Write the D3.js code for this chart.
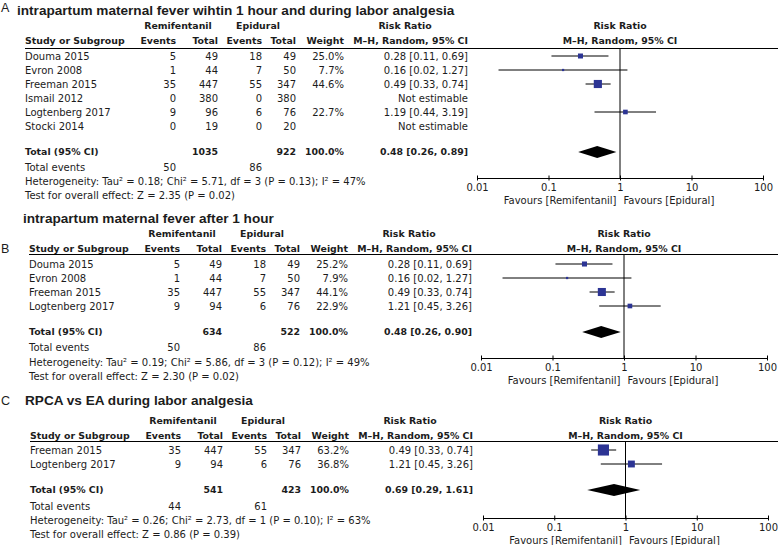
<!DOCTYPE html>
<html><head><meta charset="utf-8">
<script src="https://cdn.jsdelivr.net/npm/d3@7"></script>
<style>body{margin:0;background:#fff} svg{display:block}</style>
</head><body><svg id="c" width="778" height="545"></svg>
<script>
// ---------------- DATA ----------------
const titles = [
  "intrapartum maternal fever wihtin 1 hour and during labor analgesia",
  "intrapartum maternal fever after 1 hour",
  "RPCA vs EA during labor analgesia"
];
const panelLetters = ["A", "B", "C"];

// Panel A
const studiesA     = ["Douma 2015", "Evron 2008", "Freeman 2015", "Ismail 2012", "Logtenberg 2017", "Stocki 2014"];
const remiEventsA  = [5, 1, 35, 0, 9, 0];
const remiTotalA   = [49, 44, 447, 380, 96, 19];
const epiEventsA   = [18, 7, 55, 0, 6, 0];
const epiTotalA    = [49, 50, 347, 380, 76, 20];
const weightA      = [25.0, 7.7, 44.6, null, 22.7, null];
const rrA          = [0.28, 0.16, 0.49, null, 1.19, null];
const lowA         = [0.11, 0.02, 0.33, null, 0.44, null];
const highA        = [0.69, 1.27, 0.74, null, 3.19, null];
const totalA       = {remiTotal: 1035, epiTotal: 922, remiEvents: 50, epiEvents: 86, rr: 0.48, low: 0.26, high: 0.89,
                      het: "Heterogeneity: Tau² = 0.18; Chi² = 5.71, df = 3 (P = 0.13); I² = 47%",
                      test: "Test for overall effect: Z = 2.35 (P = 0.02)"};

// Panel B
const studiesB     = ["Douma 2015", "Evron 2008", "Freeman 2015", "Logtenberg 2017"];
const remiEventsB  = [5, 1, 35, 9];
const remiTotalB   = [49, 44, 447, 94];
const epiEventsB   = [18, 7, 55, 6];
const epiTotalB    = [49, 50, 347, 76];
const weightB      = [25.2, 7.9, 44.1, 22.9];
const rrB          = [0.28, 0.16, 0.49, 1.21];
const lowB         = [0.11, 0.02, 0.33, 0.45];
const highB        = [0.69, 1.27, 0.74, 3.26];
const totalB       = {remiTotal: 634, epiTotal: 522, remiEvents: 50, epiEvents: 86, rr: 0.48, low: 0.26, high: 0.90,
                      het: "Heterogeneity: Tau² = 0.19; Chi² = 5.86, df = 3 (P = 0.12); I² = 49%",
                      test: "Test for overall effect: Z = 2.30 (P = 0.02)"};

// Panel C
const studiesC     = ["Freeman 2015", "Logtenberg 2017"];
const remiEventsC  = [35, 9];
const remiTotalC   = [447, 94];
const epiEventsC   = [55, 6];
const epiTotalC    = [347, 76];
const weightC      = [63.2, 36.8];
const rrC          = [0.49, 1.21];
const lowC         = [0.33, 0.45];
const highC        = [0.74, 3.26];
const totalC       = {remiTotal: 541, epiTotal: 423, remiEvents: 44, epiEvents: 61, rr: 0.69, low: 0.29, high: 1.61,
                      het: "Heterogeneity: Tau² = 0.26; Chi² = 2.73, df = 1 (P = 0.10); I² = 63%",
                      test: "Test for overall effect: Z = 0.86 (P = 0.39)"};

const tickValues = [0.01, 0.1, 1, 10, 100];
const tickLabels = ["0.01", "0.1", "1", "10", "100"];
const favoursLeft = "Favours [Remifentanil]";
const favoursRight = "Favours [Epidural]";
const groupNames = ["Remifentanil", "Epidural"];

// ---------------- BUILD ----------------
function buildRows(st, re, rt, ee, et, w, rr, lo, hi) {
  return st.map((s, i) => ({study: s, re: re[i], rt: rt[i], ee: ee[i], et: et[i], w: w[i], rr: rr[i], lo: lo[i], hi: hi[i]}));
}
const panels = [
  {rows: buildRows(studiesA, remiEventsA, remiTotalA, epiEventsA, epiTotalA, weightA, rrA, lowA, highA), total: totalA},
  {rows: buildRows(studiesB, remiEventsB, remiTotalB, epiEventsB, epiTotalB, weightB, rrB, lowB, highB), total: totalB},
  {rows: buildRows(studiesC, remiEventsC, remiTotalC, epiEventsC, epiTotalC, weightC, rrC, lowC, highC), total: totalC}
];

// layout (positions only)
const layouts = [
  {letterY: 12, titleX: 17, titleY: 15, h1: 26, h2: 41, line: 48.5, row0: 56, totalY: 152, evY: 167, hetY: 181, testY: 195, dx: 0, axisY: 178, x0: 477, x1: 763},
  {letterY: 253, titleX: 23, titleY: 223, h1: 234, h2: 249, line: 254.5, row0: 264, totalY: 332, evY: 347, hetY: 362, testY: 376, dx: 4, axisY: 358, x0: 481, x1: 767},
  {letterY: 405, titleX: 25, titleY: 405, h1: 421, h2: 436, line: 441.5, row0: 450, totalY: 490, evY: 506, hetY: 520, testY: 534, dx: 5, axisY: 518, x0: 483, x1: 768}
];

const FONT = "'DejaVu Sans', sans-serif";
const FS = 10;
const FSB = 9.4;
const TXT = "#1c1c1c";
const SQ = "#2c3494";
const f2 = d3.format(".2f"), f1 = d3.format(".1f");
const sizeScale = d3.scaleLinear().domain([0, 100]).range([1, 17]);

const svg = d3.select("#c");

function txt(g, x, y, s, opt = {}) {
  return g.append("text").attr("x", x).attr("y", y).attr("dy", "0.35em")
    .attr("text-anchor", opt.anchor || "start")
    .style("font-family", opt.family || FONT)
    .style("font-size", (opt.size || (opt.bold ? FSB : FS)) + "px")
    .style("font-weight", opt.bold ? "bold" : "normal")
    .style("fill", TXT)
    .text(s);
}

panels.forEach((p, pi) => {
  const L = layouts[pi];
  const g = svg.append("g");
  const dx = L.dx;
  const col = {study: 25 + dx, ev: 176 + dx, tot: 218 + dx, eev: 262 + dx, etot: 296 + dx, w: 344 + dx, rr: 468 + dx};
  const x = d3.scaleLog().domain([0.01, 100]).range([L.x0, L.x1]);
  const xOne = x(1);

  // letter + title
  g.append("text").attr("x", 1).attr("y", L.letterY).text(panelLetters[pi])
    .style("font-family", "'Liberation Sans', Arial, sans-serif").style("font-size", "12.5px").style("fill", TXT);
  g.append("text").attr("x", L.titleX).attr("y", L.titleY).text(titles[pi])
    .style("font-family", "'Liberation Sans', Arial, sans-serif").style("font-size", "13.6px").style("font-weight", "bold").style("fill", TXT);

  // headers
  txt(g, col.ev + 2, L.h1, groupNames[0], {anchor: "middle", bold: true});
  txt(g, col.eev - 4, L.h1, groupNames[1], {anchor: "middle", bold: true});
  txt(g, col.rr - 63, L.h1, "Risk Ratio", {anchor: "middle", bold: true});
  txt(g, xOne, L.h1, "Risk Ratio", {anchor: "middle", bold: true});
  txt(g, col.study, L.h2, "Study or Subgroup", {bold: true});
  txt(g, col.ev, L.h2, "Events", {anchor: "end", bold: true});
  txt(g, col.tot, L.h2, "Total", {anchor: "end", bold: true});
  txt(g, col.eev, L.h2, "Events", {anchor: "end", bold: true});
  txt(g, col.etot, L.h2, "Total", {anchor: "end", bold: true});
  txt(g, col.w, L.h2, "Weight", {anchor: "end", bold: true});
  txt(g, col.rr, L.h2, "M\u2013H, Random, 95% CI", {anchor: "end", bold: true});
  txt(g, xOne, L.h2, "M\u2013H, Random, 95% CI", {anchor: "middle", bold: true});

  g.append("line").attr("x1", col.study).attr("x2", 778).attr("y1", L.line).attr("y2", L.line)
    .attr("stroke", "#000").attr("stroke-width", 1);

  // rows
  p.rows.forEach((r, i) => {
    const y = L.row0 + i * 14;
    txt(g, col.study, y, r.study);
    txt(g, col.ev, y, r.re, {anchor: "end"});
    txt(g, col.tot, y, r.rt, {anchor: "end"});
    txt(g, col.eev, y, r.ee, {anchor: "end"});
    txt(g, col.etot, y, r.et, {anchor: "end"});
    if (r.w != null) txt(g, col.w, y, f1(r.w) + "%", {anchor: "end"});
    if (r.rr != null) {
      txt(g, col.rr, y, `${f2(r.rr)} [${f2(r.lo)}, ${f2(r.hi)}]`, {anchor: "end"});
    } else {
      txt(g, col.rr, y, "Not estimable", {anchor: "end"});
    }
  });

  // totals
  const t = p.total;
  txt(g, col.study, L.totalY, "Total (95% CI)", {bold: true});
  txt(g, col.tot, L.totalY, t.remiTotal, {anchor: "end", bold: true});
  txt(g, col.etot, L.totalY, t.epiTotal, {anchor: "end", bold: true});
  txt(g, col.w, L.totalY, "100.0%", {anchor: "end", bold: true});
  txt(g, col.rr, L.totalY, `${f2(t.rr)} [${f2(t.low)}, ${f2(t.high)}]`, {anchor: "end", bold: true});
  txt(g, col.study, L.evY, "Total events");
  txt(g, col.ev, L.evY, t.remiEvents, {anchor: "end"});
  txt(g, col.eev, L.evY, t.epiEvents, {anchor: "end"});
  txt(g, col.study, L.hetY, t.het);
  txt(g, col.study, L.testY, t.test);

  // plot: vertical line of no effect
  g.append("line").attr("x1", xOne).attr("x2", xOne).attr("y1", L.line).attr("y2", L.axisY)
    .attr("stroke", "#000").attr("stroke-width", 1);

  // CIs and squares
  p.rows.forEach((r, i) => {
    if (r.rr == null) return;
    const y = L.row0 + i * 14;
    g.append("line").attr("x1", x(r.lo)).attr("x2", x(r.hi)).attr("y1", y).attr("y2", y)
      .attr("stroke", "#000").attr("stroke-width", 1);
    const s = sizeScale(r.w);
    g.append("rect").attr("x", x(r.rr) - s / 2).attr("y", y - s / 2).attr("width", s).attr("height", s)
      .attr("fill", SQ);
  });

  // diamond
  const dy = L.totalY;
  g.append("path")
    .attr("d", `M${x(t.low)},${dy} L${x(t.rr)},${dy - 6} L${x(t.high)},${dy} L${x(t.rr)},${dy + 6} Z`)
    .attr("fill", "#000");

  // axis
  const axis = d3.axisBottom(x).tickValues(tickValues).tickFormat((d, i) => tickLabels[i])
    .tickSizeInner(2.5).tickSizeOuter(0).tickPadding(3);
  const ag = g.append("g").attr("transform", `translate(0,${L.axisY})`).call(axis);
  ag.select(".domain").attr("stroke", "#000");
  ag.selectAll(".tick line").attr("y1", -2.5).attr("y2", 2.5).attr("stroke", "#000");
  ag.selectAll(".tick text").attr("y", 9.5).attr("dy", "0.35em")
    .style("font-family", FONT).style("font-size", FS + "px").style("fill", TXT);

  txt(g, xOne - 3.5, L.axisY + 22, favoursLeft, {anchor: "end"});
  txt(g, xOne + 3.5, L.axisY + 22, favoursRight, {anchor: "start"});
});
</script></body></html>
